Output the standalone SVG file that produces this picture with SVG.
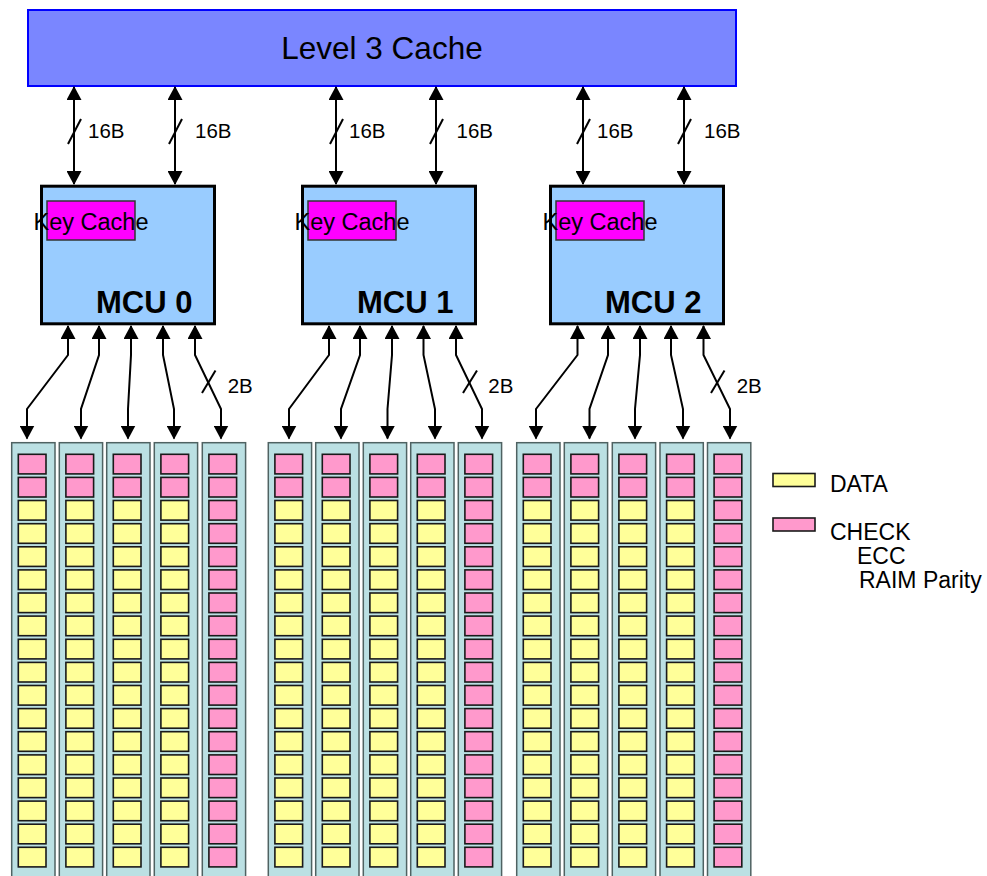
<svg xmlns="http://www.w3.org/2000/svg" xmlns:xlink="http://www.w3.org/1999/xlink" width="987" height="876" viewBox="0 0 987 876">
<style>
text{font-family:"Liberation Sans",Arial,sans-serif;fill:#000}
.lbl{font-size:20.5px}
.leg{font-size:23px}
.mcu{fill:#99CCFF;stroke:#000;stroke-width:3}
.kc{fill:#FF00FF;stroke:#333;stroke-width:1.5}
.kct{font-size:23.5px;text-anchor:middle}
.mct{font-size:31px;font-weight:bold}
.col{fill:#BBE0E3;stroke:#4F6262;stroke-width:1.5}
.p{fill:#FF99CC;stroke:#1a1a1a;stroke-width:1.6}
.y{fill:#FFFF99;stroke:#1a1a1a;stroke-width:1.6}
.ln{fill:none;stroke:#000;stroke-width:2;marker-start:url(#ah);marker-end:url(#ah)}
.sl{fill:none;stroke:#000;stroke-width:2}
</style>
<defs>
<marker id="ah" viewBox="0 0 14 15" markerWidth="14" markerHeight="15" refX="13" refY="7.5" orient="auto-start-reverse" markerUnits="userSpaceOnUse"><path d="M0,0 L14,7.5 L0,15 z" fill="#000"/></marker>
<g id="dcol">
<rect class="col" x="0" y="442.7" width="43.3" height="450"/>
<rect class="p" x="6.6" y="454.3" width="27.7" height="19.6"/>
<rect class="p" x="6.6" y="477.4" width="27.7" height="19.6"/>
<rect class="y" x="6.6" y="500.5" width="27.7" height="19.6"/>
<rect class="y" x="6.6" y="523.7" width="27.7" height="19.6"/>
<rect class="y" x="6.6" y="546.8" width="27.7" height="19.6"/>
<rect class="y" x="6.6" y="569.9" width="27.7" height="19.6"/>
<rect class="y" x="6.6" y="593.0" width="27.7" height="19.6"/>
<rect class="y" x="6.6" y="616.1" width="27.7" height="19.6"/>
<rect class="y" x="6.6" y="639.3" width="27.7" height="19.6"/>
<rect class="y" x="6.6" y="662.4" width="27.7" height="19.6"/>
<rect class="y" x="6.6" y="685.5" width="27.7" height="19.6"/>
<rect class="y" x="6.6" y="708.6" width="27.7" height="19.6"/>
<rect class="y" x="6.6" y="731.7" width="27.7" height="19.6"/>
<rect class="y" x="6.6" y="754.9" width="27.7" height="19.6"/>
<rect class="y" x="6.6" y="778.0" width="27.7" height="19.6"/>
<rect class="y" x="6.6" y="801.1" width="27.7" height="19.6"/>
<rect class="y" x="6.6" y="824.2" width="27.7" height="19.6"/>
<rect class="y" x="6.6" y="847.3" width="27.7" height="19.6"/>
</g>
<g id="ccol">
<rect class="col" x="0" y="442.7" width="43.3" height="450"/>
<rect class="p" x="6.6" y="454.3" width="27.7" height="19.6"/>
<rect class="p" x="6.6" y="477.4" width="27.7" height="19.6"/>
<rect class="p" x="6.6" y="500.5" width="27.7" height="19.6"/>
<rect class="p" x="6.6" y="523.7" width="27.7" height="19.6"/>
<rect class="p" x="6.6" y="546.8" width="27.7" height="19.6"/>
<rect class="p" x="6.6" y="569.9" width="27.7" height="19.6"/>
<rect class="p" x="6.6" y="593.0" width="27.7" height="19.6"/>
<rect class="p" x="6.6" y="616.1" width="27.7" height="19.6"/>
<rect class="p" x="6.6" y="639.3" width="27.7" height="19.6"/>
<rect class="p" x="6.6" y="662.4" width="27.7" height="19.6"/>
<rect class="p" x="6.6" y="685.5" width="27.7" height="19.6"/>
<rect class="p" x="6.6" y="708.6" width="27.7" height="19.6"/>
<rect class="p" x="6.6" y="731.7" width="27.7" height="19.6"/>
<rect class="p" x="6.6" y="754.9" width="27.7" height="19.6"/>
<rect class="p" x="6.6" y="778.0" width="27.7" height="19.6"/>
<rect class="p" x="6.6" y="801.1" width="27.7" height="19.6"/>
<rect class="p" x="6.6" y="824.2" width="27.7" height="19.6"/>
<rect class="p" x="6.6" y="847.3" width="27.7" height="19.6"/>
</g>
</defs>

<g id="l3cache">
<rect x="28" y="10" width="708" height="76" fill="#7A86FF" stroke="#0000FF" stroke-width="2"/>
<text x="382" y="59.3" font-size="31.5" text-anchor="middle">Level 3 Cache</text>
</g>

<g id="mcu0">
<rect class="mcu" x="41.5" y="186.2" width="173" height="137.6"/>
<rect class="kc" x="47" y="201" width="88" height="39"/>
<text class="kct" x="91" y="230">Key Cache</text>
<text class="mct" x="96" y="312.7">MCU 0</text>
</g>
<g id="mcu1">
<rect class="mcu" x="302.5" y="186.2" width="173" height="137.6"/>
<rect class="kc" x="308" y="201" width="88" height="39"/>
<text class="kct" x="352" y="230">Key Cache</text>
<text class="mct" x="357" y="312.7">MCU 1</text>
</g>
<g id="mcu2">
<rect class="mcu" x="550.5" y="186.2" width="173" height="137.6"/>
<rect class="kc" x="556" y="201" width="88" height="39"/>
<text class="kct" x="600" y="230">Key Cache</text>
<text class="mct" x="605" y="312.7">MCU 2</text>
</g>

<g id="dimms0">
<use xlink:href="#dcol" x="11.7"/>
<use xlink:href="#dcol" x="59.3"/>
<use xlink:href="#dcol" x="106.7"/>
<use xlink:href="#dcol" x="154.3"/>
<use xlink:href="#ccol" x="202.3"/>
</g>
<g id="dimms1">
<use xlink:href="#dcol" x="268.3"/>
<use xlink:href="#dcol" x="315.7"/>
<use xlink:href="#dcol" x="363.3"/>
<use xlink:href="#dcol" x="410.7"/>
<use xlink:href="#ccol" x="458.3"/>
</g>
<g id="dimms2">
<use xlink:href="#dcol" x="516.7"/>
<use xlink:href="#dcol" x="564.3"/>
<use xlink:href="#dcol" x="612.3"/>
<use xlink:href="#dcol" x="660"/>
<use xlink:href="#ccol" x="707.5"/>
</g>

<g id="connectors">
<line class="ln" x1="74" y1="87" x2="74" y2="184"/>
<line class="ln" x1="175" y1="87" x2="175" y2="184"/>
<line class="ln" x1="336" y1="87" x2="336" y2="184"/>
<line class="ln" x1="436" y1="87" x2="436" y2="184"/>
<line class="ln" x1="583" y1="87" x2="583" y2="184"/>
<line class="ln" x1="684" y1="87" x2="684" y2="184"/>
<line class="sl" x1="68" y1="144" x2="81" y2="119"/>
<line class="sl" x1="169" y1="144" x2="182" y2="119"/>
<line class="sl" x1="330" y1="144" x2="343" y2="119"/>
<line class="sl" x1="430" y1="144" x2="443" y2="119"/>
<line class="sl" x1="577" y1="144" x2="590" y2="119"/>
<line class="sl" x1="678" y1="144" x2="691" y2="119"/>
<polyline class="ln" points="68,326 68,355 27,409 27,438.5"/>
<polyline class="ln" points="99,326 99,355 81,409 81,438.5"/>
<polyline class="ln" points="131,326 131,355 128,409 128,438.5"/>
<polyline class="ln" points="163,326 163,355 174,409 174,438.5"/>
<polyline class="ln" points="195,326 195,355 221,409 221,438.5"/>
<line class="sl" x1="202" y1="393" x2="215.5" y2="370.5"/>
<polyline class="ln" points="329,326 329,355 289,409 289,438.5"/>
<polyline class="ln" points="360,326 360,355 341,409 341,438.5"/>
<polyline class="ln" points="392,326 392,355 387.5,409 387.5,438.5"/>
<polyline class="ln" points="423.5,326 423.5,355 435,409 435,438.5"/>
<polyline class="ln" points="456,326 456,355 482,409 482,438.5"/>
<line class="sl" x1="463" y1="393" x2="477" y2="370.5"/>
<polyline class="ln" points="577.5,326 577.5,355 536,409 536,438.5"/>
<polyline class="ln" points="608,326 608,355 589.5,409 589.5,438.5"/>
<polyline class="ln" points="640,326 640,355 635,409 635,438.5"/>
<polyline class="ln" points="671,326 671,355 683,409 683,438.5"/>
<polyline class="ln" points="703.5,326 703.5,355 730,409 730,438.5"/>
<line class="sl" x1="711" y1="393" x2="724.5" y2="370.5"/>
</g>

<g id="labels">
<text class="lbl" x="88" y="138">16B</text>
<text class="lbl" x="195" y="138">16B</text>
<text class="lbl" x="349" y="138">16B</text>
<text class="lbl" x="456.5" y="138">16B</text>
<text class="lbl" x="597" y="138">16B</text>
<text class="lbl" x="704" y="138">16B</text>
<text class="lbl" x="227.7" y="393">2B</text>
<text class="lbl" x="488.3" y="393">2B</text>
<text class="lbl" x="736.7" y="393">2B</text>
</g>

<g id="legend">
<rect class="y" x="773" y="473.5" width="42" height="13"/>
<text class="leg" x="830" y="492">DATA</text>
<rect class="p" x="773" y="518" width="42" height="13"/>
<text class="leg" x="830" y="540">CHECK</text>
<text class="leg" x="857" y="563.5">ECC</text>
<text class="leg" x="859" y="588">RAIM Parity</text>
</g>
</svg>
